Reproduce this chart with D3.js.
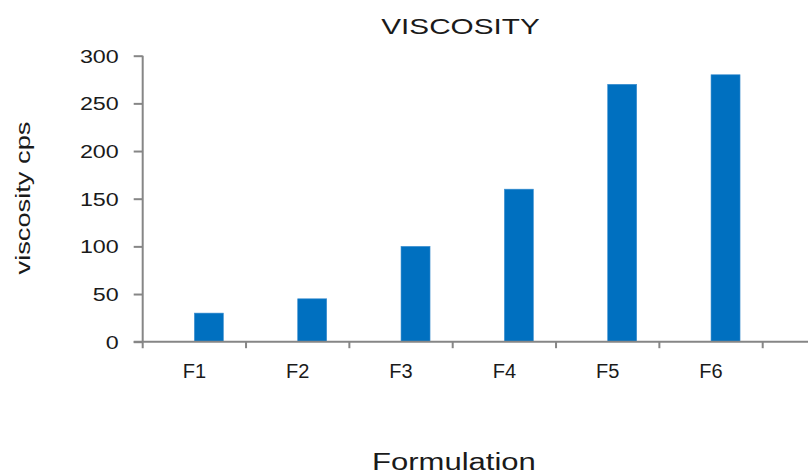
<!DOCTYPE html>
<html>
<head>
<meta charset="utf-8">
<script src="https://cdn.jsdelivr.net/npm/d3@7"></script>
<style>
  html, body { margin: 0; padding: 0; background: #fff; }
  svg { display: block; }
  text { font-family: "Liberation Sans", Arial, sans-serif; fill: #1a1a1a; }
</style>
</head>
<body>
<svg id="chart" width="808" height="476"></svg>
<script>
// Viscosity (cps) of each formulation
const categories = ["F1", "F2", "F3", "F4", "F5", "F6"];
const viscosity = [30, 45, 100, 160, 270, 280];
const yTicks = [0, 50, 100, 150, 200, 250, 300];
const titleText = "VISCOSITY";
const xTitle = "Formulation";
const yTitle = "viscosity cps";

const W = 808, H = 476;
const plotLeft = 142.7, plotRight = 762.7, plotTop = 55.7, plotBottom = 341.7;
const axisColor = "#868686";
const barColor = "#0070c0";

const svg = d3.select("#chart");

const x = d3.scaleBand().domain(categories).range([plotLeft, plotRight]).padding(0);
const y = d3.scaleLinear().domain([0, 300]).range([plotBottom, plotTop]);

// widen a text element horizontally by a factor
function stretch(sel, k) {
  sel.each(function () {
    const len = this.getComputedTextLength();
    d3.select(this).attr("textLength", len * k).attr("lengthAdjust", "spacingAndGlyphs");
  });
}

// bars: start at the band centre
const barW = 29;
svg.append("g").selectAll("rect")
  .data(categories.map((c, i) => ({ c, v: viscosity[i] })))
  .join("rect")
  .attr("x", d => x(d.c) + x.bandwidth() / 2)
  .attr("y", d => y(d.v))
  .attr("width", barW)
  .attr("height", d => y(0) - y(d.v))
  .attr("fill", barColor)
  .attr("stroke", "#3d8fd0")
  .attr("stroke-width", 0.6);

// y axis
const yAxis = svg.append("g")
  .attr("transform", `translate(${plotLeft},0)`)
  .call(d3.axisLeft(y).tickValues(yTicks).tickSize(9).tickPadding(15).tickSizeOuter(0));
yAxis.select(".domain").remove();
yAxis.selectAll(".tick line").attr("stroke", axisColor).attr("stroke-width", 2);
yAxis.selectAll(".tick text")
  .attr("font-size", 17.5)
  .attr("font-family", "Liberation Sans, Arial, sans-serif")
  .attr("fill", "#1a1a1a")
  .attr("dy", "0.36em")
  .call(stretch, 1.33);
yAxis.append("line")
  .attr("x1", 0).attr("x2", 0)
  .attr("y1", plotTop).attr("y2", plotBottom + 6.5)
  .attr("stroke", axisColor).attr("stroke-width", 2);

// x axis line, boundary ticks and category labels
const xg = svg.append("g");
xg.append("line")
  .attr("x1", plotLeft - 9).attr("x2", W)
  .attr("y1", plotBottom).attr("y2", plotBottom)
  .attr("stroke", axisColor).attr("stroke-width", 2);
const bounds = categories.map(c => x(c)).concat([x.range()[1]]).slice(1);
xg.selectAll("line.tk").data(bounds).join("line")
  .attr("class", "tk")
  .attr("x1", d => d).attr("x2", d => d)
  .attr("y1", plotBottom).attr("y2", plotBottom + 6.5)
  .attr("stroke", axisColor).attr("stroke-width", 2);
const xAxis = svg.append("g")
  .attr("transform", `translate(0,${plotBottom})`)
  .call(d3.axisBottom(x).tickSize(0).tickPadding(0));
xAxis.select(".domain").remove();
xAxis.selectAll(".tick text")
  .attr("font-size", 20)
  .attr("font-family", "Liberation Sans, Arial, sans-serif")
  .attr("fill", "#1a1a1a")
  .attr("dy", null)
  .attr("y", 36.6);

// title and axis titles
svg.append("text")
  .attr("x", 460.5).attr("y", 34.3)
  .attr("text-anchor", "middle")
  .attr("font-size", 22)
  .text(titleText)
  .call(stretch, 1.35);

svg.append("text")
  .attr("x", 454).attr("y", 470)
  .attr("text-anchor", "middle")
  .attr("font-size", 23.5)
  .text(xTitle)
  .call(stretch, 1.32);

svg.append("text")
  .attr("transform", "translate(29.5,198) rotate(-90)")
  .attr("text-anchor", "middle")
  .attr("font-size", 19.5)
  .text(yTitle)
  .attr("textLength", 153)
  .attr("lengthAdjust", "spacingAndGlyphs");
</script>
</body>
</html>
